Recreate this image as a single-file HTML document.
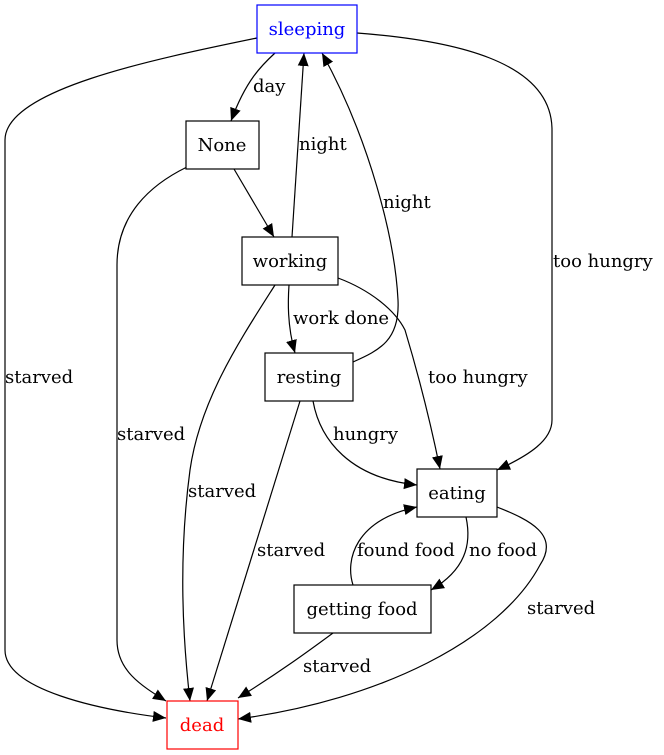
<!DOCTYPE html>
<html><head><meta charset="utf-8"><style>
html,body{margin:0;padding:0;background:#fff;}
svg{display:block;}
text{font-family:"DejaVu Serif","Liberation Serif",serif;font-size:18px;fill:#000;}
</style></head><body>
<svg width="664" height="755" viewBox="0 0 664 755" xmlns="http://www.w3.org/2000/svg">
<defs>
<marker id="a" markerUnits="userSpaceOnUse" markerWidth="14" markerHeight="12" refX="13" refY="6" orient="auto">
<path d="M0,0.5 L13,6 L0,11.5 Z" fill="#000"/>
</marker>
</defs>
<g fill="none" stroke="#000" stroke-width="1.2" marker-end="url(#a)">
<path d="M275,53 C262,65 246,80 231,121"/>
<path d="M292,237 L304,53"/>
<path d="M353,362 C380,350 400,340 398,300 C395,240 370,140 322,53"/>
<path d="M257,38 C150,60 5,90 5,140 L5,650 C5,690 100,710 166,718"/>
<path d="M357,33 C450,40 552,60 552,130 L552,420 C552,440 530,455 497,470"/>
<path d="M234,169 L274,237"/>
<path d="M187,167 C150,185 117,215 117,265 L117,640 C117,670 140,685 166,701"/>
<path d="M289,285 C288,300 287,325 295,353"/>
<path d="M338,278 C370,290 395,310 405,330 C420,380 430,420 440,469"/>
<path d="M275,285 C240,340 200,400 190,470 C178,560 183,640 190,701"/>
<path d="M313,401 C320,440 350,478 417,485"/>
<path d="M300,401 L207,701"/>
<path d="M466,517 C472,545 465,570 431,590"/>
<path d="M353,585 C345,560 355,520 417,507"/>
<path d="M497,507 C530,520 560,535 540,565 C500,640 380,700 238,719"/>
<path d="M333,633 C310,650 280,672 238,698"/>
</g>
<g fill="#fff" stroke-width="1.2">
<rect x="257" y="5" width="100" height="48" stroke="#00f"/>
<rect x="186" y="121" width="73" height="48" stroke="#000"/>
<rect x="242" y="237" width="96" height="48" stroke="#000"/>
<rect x="265" y="353" width="88" height="48" stroke="#000"/>
<rect x="417" y="469" width="80" height="48" stroke="#000"/>
<rect x="294" y="585" width="137" height="48" stroke="#000"/>
<rect x="167" y="701" width="71" height="48" stroke="#f00"/>
</g>
<g text-anchor="middle">
<text x="307" y="35" style="fill:#00f">sleeping</text>
<text x="222" y="151">None</text>
<text x="290" y="267">working</text>
<text x="309" y="383">resting</text>
<text x="457" y="499">eating</text>
<text x="362" y="615">getting food</text>
<text x="202" y="731" style="fill:#f00">dead</text>
</g>
<text x="253" y="92">day</text>
<text x="299" y="150">night</text>
<text x="383" y="208">night</text>
<text x="5" y="383">starved</text>
<text x="553" y="267">too hungry</text>
<text x="117" y="440">starved</text>
<text x="293" y="324">work done</text>
<text x="428" y="383">too hungry</text>
<text x="188" y="497">starved</text>
<text x="333" y="440">hungry</text>
<text x="257" y="556">starved</text>
<text x="469" y="556">no food</text>
<text x="357" y="556">found food</text>
<text x="527" y="614">starved</text>
<text x="303" y="672">starved</text>
</svg>
</body></html>
